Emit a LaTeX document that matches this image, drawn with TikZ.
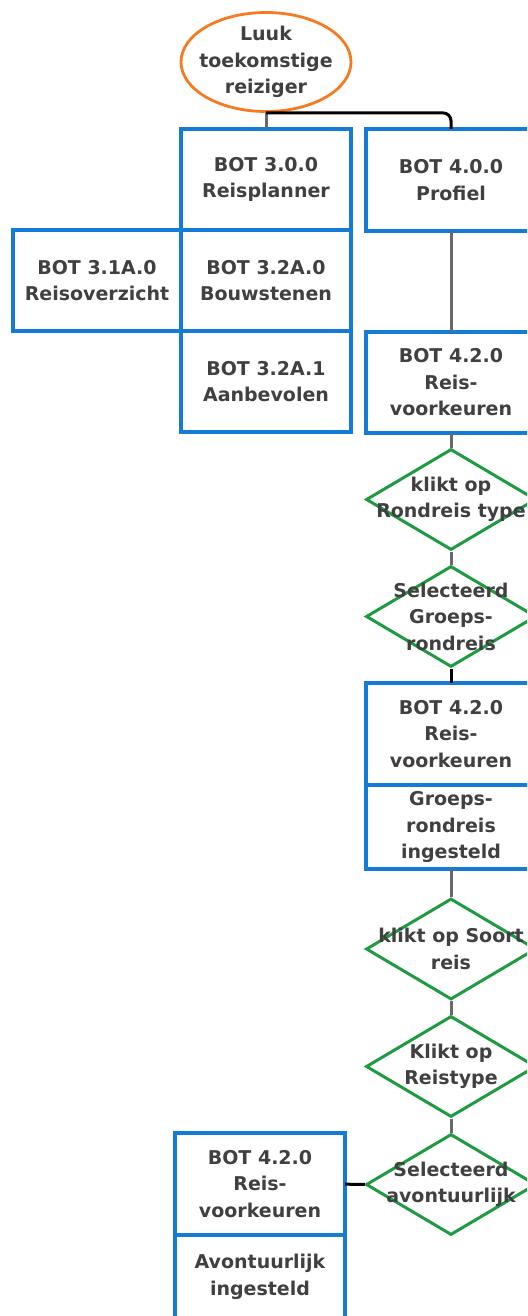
\documentclass[tikz,border=0pt]{standalone}
\usepackage{fontspec}
\setmainfont{DejaVu Sans}
\usetikzlibrary{shapes,positioning}
\definecolor{botblue}{RGB}{20,124,214}
\definecolor{pathgreen}{RGB}{30,155,65}
\definecolor{userorange}{RGB}{245,122,34}
\definecolor{textgray}{RGB}{64,64,64}
\definecolor{linegray}{RGB}{105,105,105}

\begin{document}
\begin{tikzpicture}[
    x=1pt, y=-1pt,
    every node/.style={font=\fontsize{19}{26.5}\selectfont\bfseries, text=textgray},
    screen/.style={rectangle, draw=botblue, line width=3.2pt, outer sep=0pt,
                   minimum width=170pt, minimum height=101pt, align=center},
    decision/.style={diamond, draw=pathgreen, line width=3pt, inner sep=0pt,
                     minimum width=170pt, minimum height=101pt},
    user/.style={ellipse, draw=userorange, line width=2.8pt, inner sep=0pt,
                 minimum width=170pt, minimum height=99pt},
    dtext/.style={align=center, inner sep=0pt},
    link/.style={line width=3pt, color=linegray},
    hop/.style={line width=3pt, color=black, rounded corners=8pt}
]
\useasboundingbox (0,0) rectangle (527,1316);
\clip (0,0) rectangle (527,1316);

% Persona
\node[user, label={[dtext]center:Luuk\\toekomstige\\reiziger}] (luuk) at (266,62) {};

% Screens
\node[screen] (plan) at (266,179.5) {BOT 3.0.0\\Reisplanner};
\node[screen, below=0pt of plan] (bouw) {BOT 3.2A.0\\Bouwstenen};
\node[screen, left=0pt of bouw, minimum width=168pt] (overzicht) {BOT 3.1A.0\\Reisoverzicht};
\node[screen, below=0pt of bouw] (aanbev) {BOT 3.2A.1\\Aanbevolen};

\node[screen, minimum height=102pt] (profiel) at (451,180) {BOT 4.0.0\\Profiel};
\node[screen] (voork1) at (451,382.5) {BOT 4.2.0\\Reis-\\voorkeuren};

% Choices
\node[decision, label={[dtext]center:klikt op\\Rondreis type}] (rond) at (451,499.5) {};
\node[decision, label={[dtext]center:Selecteerd\\Groeps-\\rondreis}] (groepsel) at (451,616.5) {};

\node[screen, minimum height=102pt] (voork2) at (451,734) {BOT 4.2.0\\Reis-\\voorkeuren};
\node[screen, below=0pt of voork2, minimum height=84pt] (groeps) {Groeps-\\rondreis\\ingesteld};

\node[decision, label={[dtext]center:klikt op Soort\\reis}] (soort) at (451,949) {};
\node[decision, label={[dtext]center:Klikt op\\Reistype}] (type) at (451,1066.5) {};
\node[decision, label={[dtext]center:Selecteerd\\avontuurlijk}] (avsel) at (451,1184.5) {};

\node[screen, minimum height=102pt] (voork3) at (260,1184) {BOT 4.2.0\\Reis-\\voorkeuren};
\node[screen, below=0pt of voork3, minimum height=84pt] (avont) {Avontuurlijk\\ingesteld};

% Lines
\draw[link] (luuk.south) -- (plan.north);
\draw[hop] (luuk.south) -| (profiel.north);
\draw[link] (profiel) -- (voork1);
\draw[link] (voork1) -- (rond);
\draw[link] (rond) -- (groepsel);
\draw[line width=3pt] (groepsel) -- (voork2);
\draw[link] (groeps) -- (soort);
\draw[link] (soort) -- (type);
\draw[link] (type) -- (avsel);
\draw[line width=3pt] (avsel) -- (voork3);

\end{tikzpicture}
\end{document}
